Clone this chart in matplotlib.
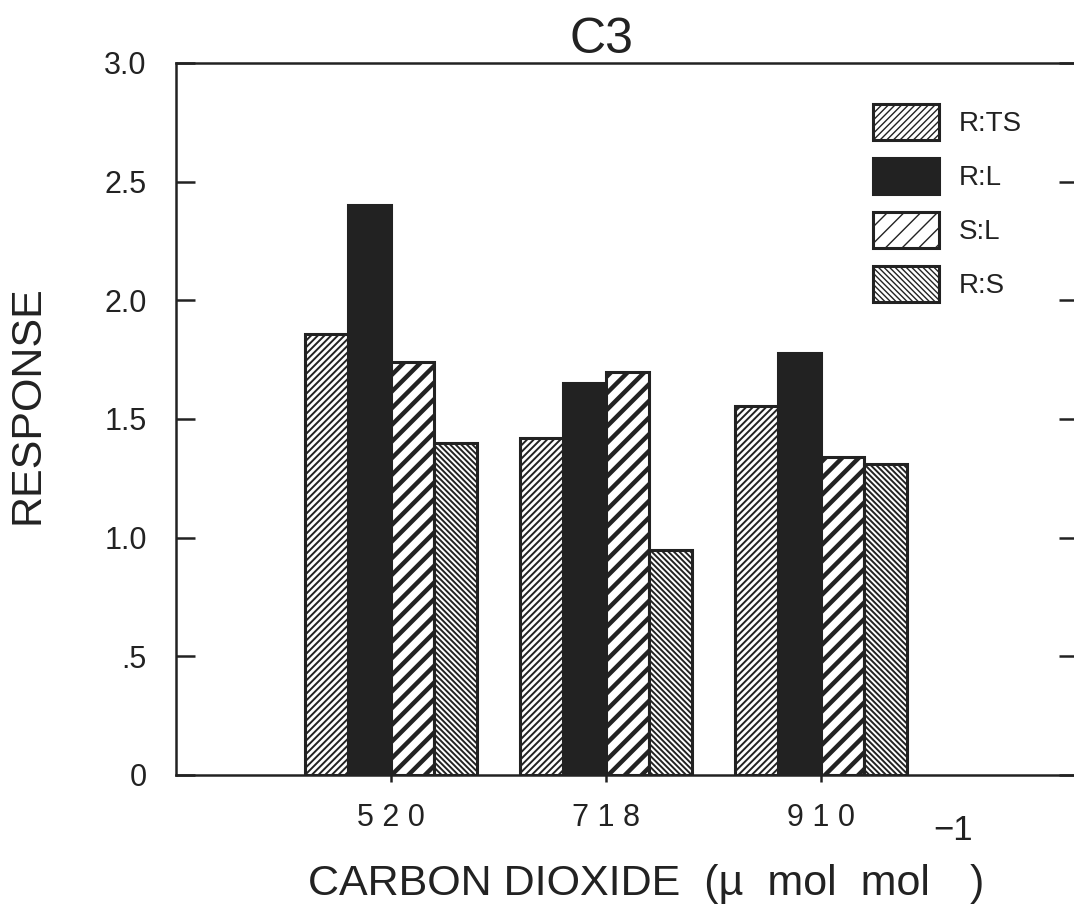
"""Bar chart: C3 response ratios vs CO2 concentration."""

import matplotlib
matplotlib.use("Agg")
import matplotlib.pyplot as plt
import numpy as np

plt.rcParams["font.family"] = ["Liberation Sans", "DejaVu Sans"]

co2_labels = ["5 2 0", "7 1 8", "9 1 0"]
series = ["R:TS", "R:L", "S:L", "R:S"]
r_ts = [1.86, 1.42, 1.555]
r_l = [2.40, 1.65, 1.78]
s_l = [1.74, 1.70, 1.34]
r_s = [1.40, 0.95, 1.31]
yticks = [0, 0.5, 1.0, 1.5, 2.0, 2.5, 3.0]
ytick_labels = ["0", ".5", "1.0", "1.5", "2.0", "2.5", "3.0"]

W, H = 1074, 914
fig = plt.figure(figsize=(W / 100, H / 100), dpi=100)
ax = fig.add_axes([176 / W, 139 / H, (1078 - 176) / W, (851 - 139) / H])

ink = "#222222"
styles = [
    dict(facecolor="white", hatch="/////", hlw=1.4),
    dict(facecolor=ink, hatch=None, hlw=1.0),
    dict(facecolor="white", hatch="//", hlw=3.2),
    dict(facecolor="white", hatch="\\\\\\\\\\\\", hlw=1.4),
]
values = [r_ts, r_l, s_l, r_s]
x = np.arange(1, len(co2_labels) + 1)
bw = 0.2
handles = []
for i, (vals, st) in enumerate(zip(values, styles)):
    plt.rcParams["hatch.linewidth"] = st["hlw"]
    bars = ax.bar(x + (i - 1.5) * bw, vals, bw, facecolor=st["facecolor"],
                  edgecolor=ink, linewidth=2.2, hatch=st["hatch"],
                  label=series[i])
    for b in bars:
        if hasattr(b, "set_hatch_linewidth"):
            b.set_hatch_linewidth(st["hlw"])
    handles.append(bars)
plt.rcParams["hatch.linewidth"] = 1.0

ax.set_xlim(0, 4.195)
ax.set_ylim(0, 3.0)
ax.set_xticks(x)
ax.set_xticklabels(co2_labels)
ax.set_yticks(yticks)
ax.set_yticklabels(ytick_labels)
for sp in ax.spines.values():
    sp.set_linewidth(1.8)
    sp.set_color(ink)
ax.tick_params(axis="y", direction="in", length=14, width=1.8, color=ink,
               labelsize=22, pad=21, right=True, labelcolor=ink)
ax.tick_params(axis="x", direction="out", length=5, width=1.8, color=ink,
               labelsize=22, pad=15, labelcolor=ink)

leg = ax.legend(handles=handles, labels=series, loc="upper left",
                bbox_to_anchor=(873 / W, 1 - 104 / H),
                bbox_transform=fig.transFigure, frameon=False, fontsize=20,
                handlelength=2.37, handleheight=1.615, labelspacing=0.65,
                handletextpad=0.72, borderpad=0, borderaxespad=0)
for t in leg.get_texts():
    t.set_color(ink)

fig.text(602 / W, 1 - 40 / H, "C3", fontsize=36, ha="center", va="center",
         color=ink)
fig.text(28 / W, 1 - 405 / H, "RESPONSE", fontsize=31, rotation=90,
         ha="center", va="center", color=ink)

# x label built from pieces so the raised "-1" sits like the original
xl = fig.text(308 / W, 1 - 884 / H, "CARBON DIOXIDE  (µ  mol  mol",
              fontsize=31, ha="left", va="center", color=ink)
fig.canvas.draw()
r = fig.canvas.get_renderer()
x_end = xl.get_window_extent(r).x1
fig.text((x_end + 3) / W, 1 - 831 / H, "\u22121", fontsize=25, ha="left",
         va="center", color=ink)
fig.text((x_end + 40) / W, 1 - 884 / H, ")", fontsize=31, ha="left",
         va="center", color=ink)

fig.savefig("out.png", dpi=100)
